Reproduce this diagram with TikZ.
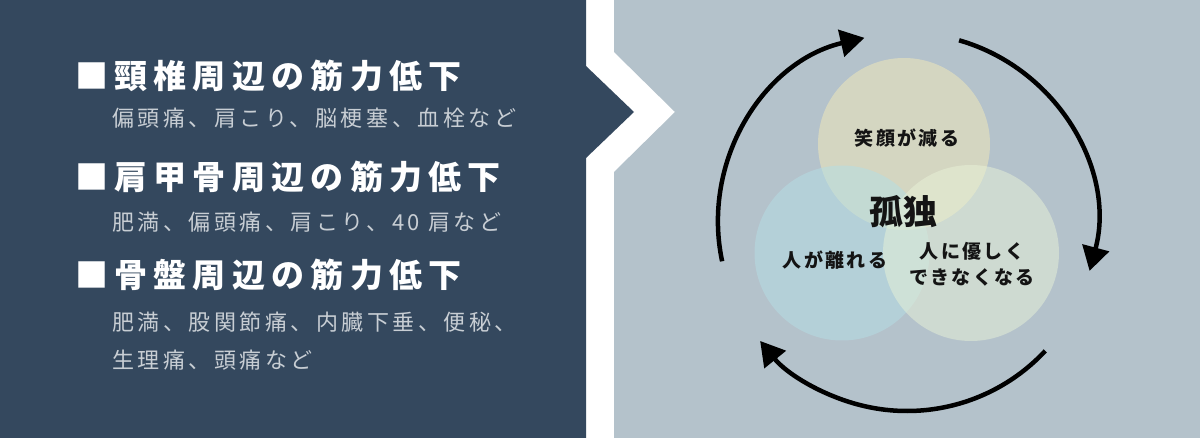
\documentclass[tikz,border=0pt]{standalone}
\usepackage{fontspec}
\usetikzlibrary{arrows.meta}
\newfontfamily\jp{Noto Sans CJK JP}
\newfontfamily\jpsub[LetterSpace=16]{Noto Sans CJK JP}
\newfontfamily\jphead[LetterSpace=19]{Noto Sans CJK JP}
\newfontfamily\jpcirc[LetterSpace=12]{Noto Sans CJK JP}
\definecolor{darkpanel}{RGB}{52,72,94}
\definecolor{lightpanel}{RGB}{180,194,203}
\definecolor{subtext}{RGB}{200,206,212}
\definecolor{topc}{RGB}{245,235,185}
\definecolor{leftc}{RGB}{180,222,230}
\definecolor{rightc}{RGB}{232,242,215}
\definecolor{ink}{RGB}{20,20,20}
\tikzset{
  head/.style={anchor=west, inner sep=0pt, text=white, font=\jphead\bfseries\fontsize{33}{38}\selectfont},
  sub/.style={anchor=west, inner sep=0pt, text=subtext, font=\jpsub\fontsize{22}{26}\selectfont},
  venn/.style={circle, inner sep=0pt, draw=none, fill opacity=0.5},
  vlabel/.style={inner sep=0pt, text=ink, align=center, font=\jpcirc\bfseries\fontsize{19}{26}\selectfont},
  cyc/.style={line width=4.5pt, draw=black, -{Triangle[length=24pt,width=27pt]}}
}
\begin{document}
\begin{tikzpicture}[x=1pt,y=1pt]
\useasboundingbox (0,0) rectangle (1200,-438);
\fill[white] (0,0) rectangle (1200,-438);
% left dark panel with chevron
\fill[darkpanel] (0,0) -- (586,0) -- (586,-66) -- (634,-112) -- (586,-158) -- (586,-438) -- (0,-438) -- cycle;
% right light panel with notch
\fill[lightpanel] (614,0) -- (1200,0) -- (1200,-438) -- (614,-438) -- (614,-172) -- (675,-112) -- (614,-52) -- cycle;

% left texts
\node[head] (h1) at (75,-76) {■頸椎周辺の筋力低下};
\node[sub]  (s1) at (112,-118) {偏頭痛、肩こり、脳梗塞、血栓など};
\node[head] (h2) at (75,-177) {■肩甲骨周辺の筋力低下};
\node[sub]  (s2) at (112,-222) {肥満、偏頭痛、肩こり、40 肩など};
\node[head] (h3) at (75,-275) {■骨盤周辺の筋力低下};
\node[sub]  (s3) at (112,-322) {肥満、股関節痛、内臓下垂、便秘、};
\node[sub]  (s4) at (112,-360) {生理痛、頭痛など};

% venn circles
\node[venn, fill=topc, minimum size=172pt] (ctop) at (904,-144) {};
\node[venn, fill=leftc, minimum size=175pt] (cleft) at (842,-253) {};
\node[venn, fill=rightc, minimum size=176pt] (cright) at (971,-253) {};

% labels
\node[vlabel] (ltop) at (907,-138) {笑顔が減る};
\node[inner sep=0pt, text=ink, font=\jp\bfseries\fontsize{34}{40}\selectfont] (lcenter) at (903,-212) {孤独};
\node[vlabel] (lleft) at (835,-260) {人が離れる};
\node[vlabel] (lright) at (972,-264) {人に優しく\\できなくなる};

% cycle arrows
\coordinate (c) at (907,-222);
\draw[cyc] (c) ++(192:189) arc[start angle=192, end angle=103, radius=189];
\draw[cyc] (c) ++(74:189) arc[start angle=74, end angle=-15, radius=189];
\draw[cyc] (c) ++(-43:189) arc[start angle=-43, end angle=-141, radius=189];
\end{tikzpicture}
\end{document}
